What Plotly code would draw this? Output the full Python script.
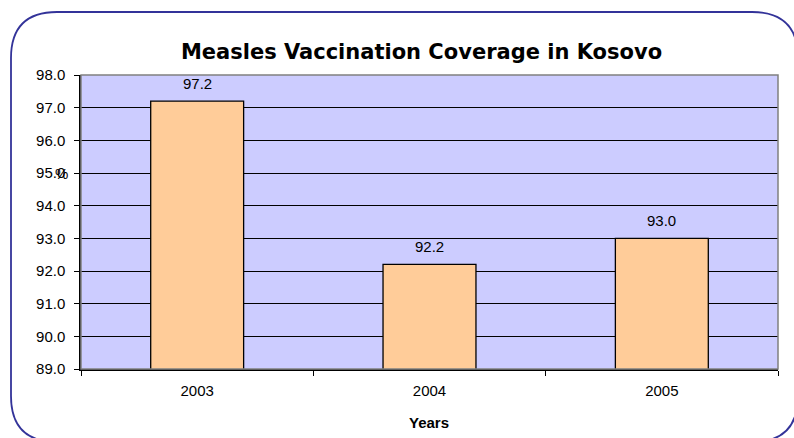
import plotly.graph_objects as go

years = ["2003", "2004", "2005"]
coverage = [97.2, 92.2, 93.0]
y_ticks = [89, 90, 91, 92, 93, 94, 95, 96, 97, 98]

W, H = 794, 438
L, R, T, B = 81, 778, 75, 369


def px(x):
    return (x - L) / (R - L)


def py(y):
    return (B - y) / (B - T)


# rounded frame around the whole chart, built in pixel terms then mapped to paper
x0, x1, y0, y1, r = 11, 798, 12, 442, 46
frame = (
    f"M {px(x0 + r)},{py(y0)} L {px(x1 - r)},{py(y0)} "
    f"Q {px(x1)},{py(y0)} {px(x1)},{py(y0 + r)} "
    f"L {px(x1)},{py(y1 - r)} Q {px(x1)},{py(y1)} {px(x1 - r)},{py(y1)} "
    f"L {px(x0 + r)},{py(y1)} Q {px(x0)},{py(y1)} {px(x0)},{py(y1 - r)} "
    f"L {px(x0)},{py(y0 + r)} Q {px(x0)},{py(y0)} {px(x0 + r)},{py(y0)} Z"
)

fig = go.Figure(
    go.Bar(
        x=years,
        y=coverage,
        marker=dict(color="#FFCC99", line=dict(color="#000000", width=1.3)),
        width=0.4,
        hovertemplate="%{x}: %{y:.1f}%<extra></extra>",
    )
)

# value labels above each bar (category index used as x)
for i, v in enumerate(coverage):
    fig.add_annotation(
        x=i, y=v, text=f"{v:.1f}", showarrow=False,
        yanchor="bottom", yshift=7,
        font=dict(family="Liberation Sans, Arial", size=15, color="#000000"),
    )

fig.add_annotation(
    xref="paper", yref="paper", x=px(61.5), y=py(173), text="%",
    xanchor="center", yanchor="middle", showarrow=False,
    font=dict(family="Liberation Sans, Arial", size=15, color="#000000"),
)
fig.add_annotation(
    xref="paper", yref="paper", x=px(429), y=py(422), text="<b>Years</b>",
    xanchor="center", yanchor="middle", showarrow=False,
    font=dict(family="Liberation Sans, Arial", size=15, color="#000000"),
)

fig.add_shape(type="path", xref="paper", yref="paper", path=frame,
              line=dict(color="#333399", width=1.8), layer="below")
# gray frame on top/right of plot area
fig.add_shape(type="rect", xref="paper", yref="paper", x0=0, x1=1, y0=0, y1=1,
              line=dict(color="#808080", width=1.5), layer="above")

fig.update_layout(
    width=W, height=H,
    margin=dict(l=L, r=W - R, t=T, b=H - B),
    paper_bgcolor="#FFFFFF",
    plot_bgcolor="#CCCCFF",
    showlegend=False,
    title=dict(
        text="<b>Measles Vaccination Coverage in Kosovo</b>",
        xref="container", x=421.5 / W, xanchor="center",
        y=1 - 52 / H, yanchor="middle",
        font=dict(family="DejaVu Sans, Verdana", size=21, color="#000000"),
    ),
    xaxis=dict(
        type="category", range=[-0.5, 2.5], tickson="boundaries",
        ticks="outside", ticklen=5, tickangle=0, automargin=False,
        ticklabelstandoff=7,
        tickcolor="#000000", showline=True, linecolor="#000000", linewidth=1.5,
        showgrid=False,
        tickfont=dict(family="Liberation Sans, Arial", size=15, color="#000000"),
    ),
    yaxis=dict(
        range=[89, 98], tickvals=y_ticks, ticktext=[f"{t:.1f}" for t in y_ticks],
        ticks="outside", ticklen=5, tickcolor="#000000", automargin=False,
        ticklabelstandoff=6,
        showline=True, linecolor="#000000", linewidth=1.5,
        showgrid=True, gridcolor="#000000", gridwidth=1,
        tickfont=dict(family="Liberation Sans, Arial", size=15, color="#000000"),
    ),
)

# drop the browser's default body margin so the figure sits at the page origin
fig.write_html(
    "out.html",
    config={"displayModeBar": False},
    post_script="document.body.style.margin='0px';",
)
